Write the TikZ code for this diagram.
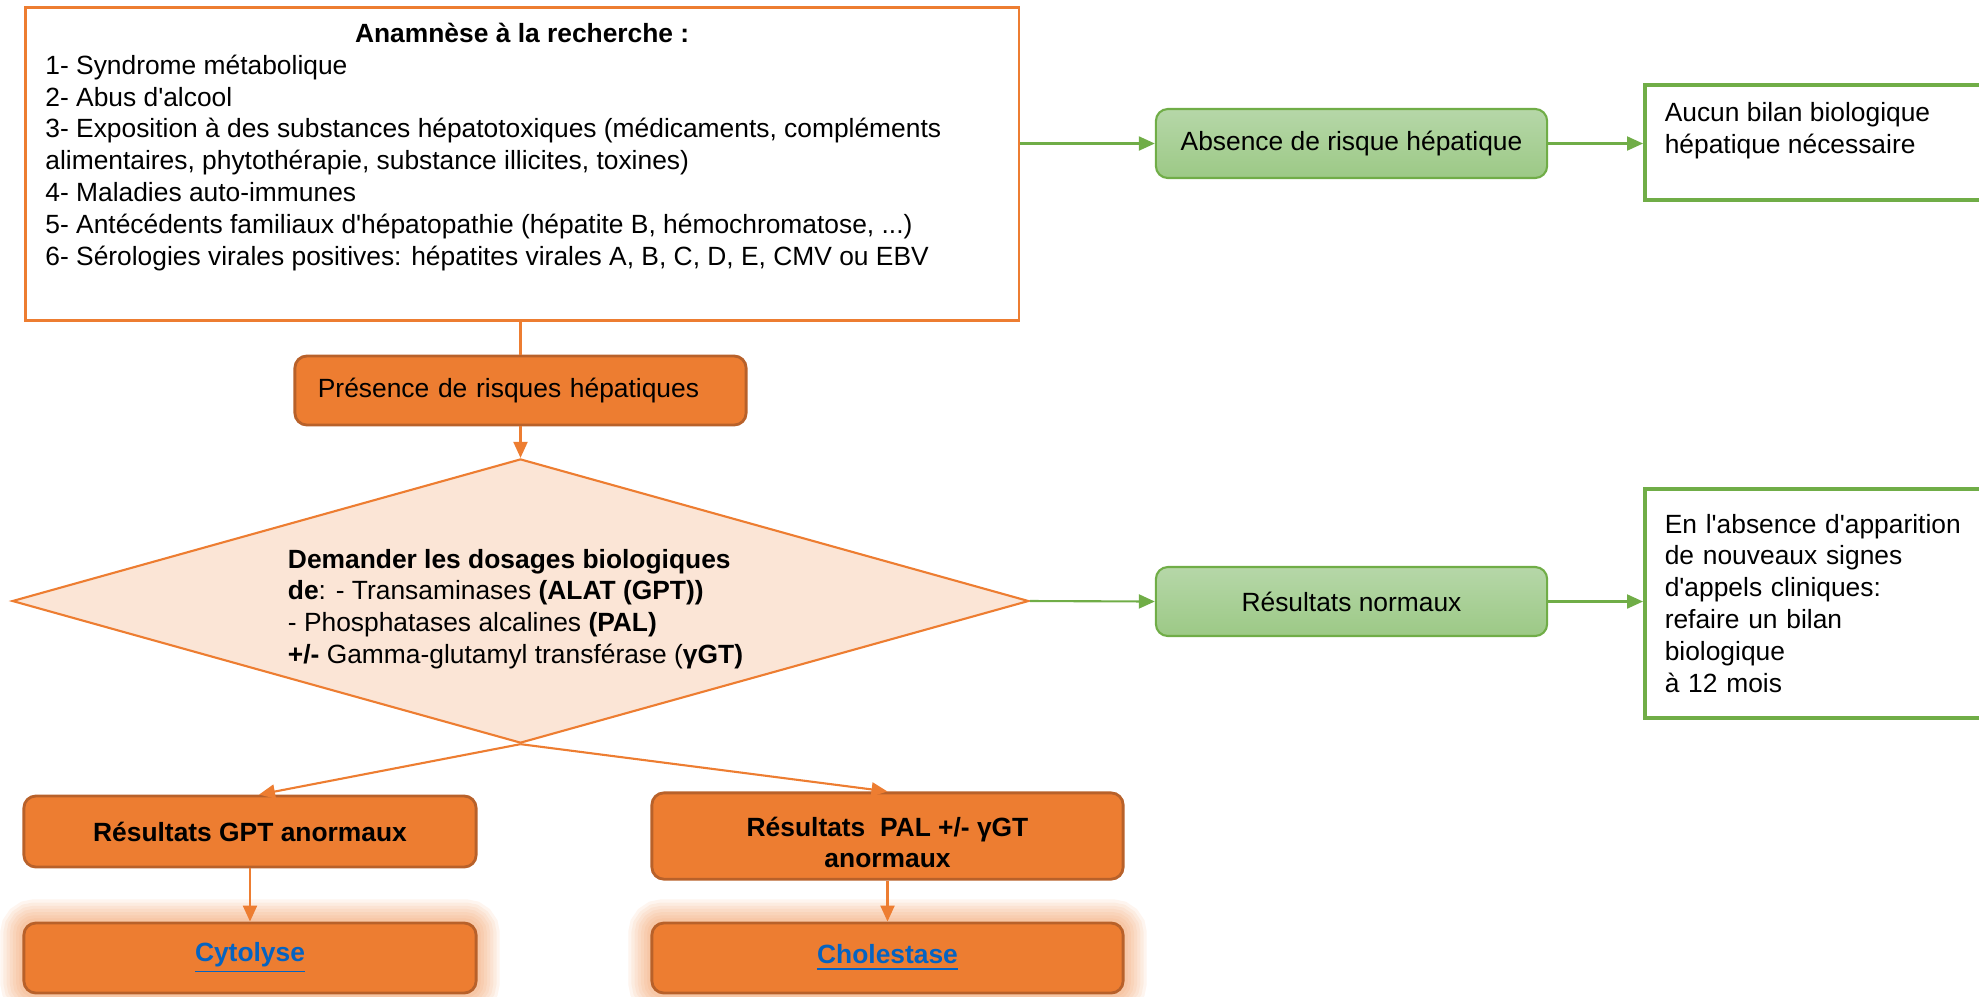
\documentclass[tikz,border=0pt]{standalone}
\usepackage{fontspec}
\setmainfont{Liberation Sans}[Ligatures=TeXOff]
\usetikzlibrary{shapes.geometric,arrows.meta,backgrounds}
\definecolor{orfill}{HTML}{ED7D31}
\definecolor{ordraw}{HTML}{B8612A}
\definecolor{peach}{HTML}{FBE5D6}
\definecolor{grdraw}{HTML}{70AD47}
\definecolor{grtop}{HTML}{B6D7A8}
\definecolor{grbot}{HTML}{9CC986}
\definecolor{linkblue}{HTML}{0563C1}
\newcommand{\lienbleu}[1]{\textcolor{linkblue}{\underline{#1}}}

\begin{document}
\begin{tikzpicture}[x=0.01cm,y=-0.01cm,
    font=\fontsize{7.5}{9.07}\selectfont,
    orbox/.style={fill=orfill,draw=ordraw,line width=0.8pt,rounded corners=0.12cm},
    grbox/.style={top color=grtop,bottom color=grbot,draw=grdraw,line width=0.6pt,
      rounded corners=0.12cm,minimum width=3.91cm,minimum height=0.69cm},
    wbox/.style={draw=grdraw,line width=1pt,fill=white,inner xsep=0.2cm,anchor=north west},
    orarrow/.style={draw=orfill,line width=0.6pt,-{Triangle[length=0.16cm,width=0.14cm]}},
    grarrow/.style={draw=grdraw,line width=0.6pt,-{Triangle[length=0.16cm,width=0.14cm]}}]
  \useasboundingbox (0,0) rectangle (1979,996);

  % Anamnese box
  \node (anam) [draw=orfill,line width=0.8pt,inner xsep=0.2cm,inner ysep=0.155cm,anchor=north west] at (24,6)
    {\parbox[c][2.82cm][t]{9.53cm}{\raggedright
      \makebox[\linewidth]{\textbf{Anamnèse à la recherche :}}\\
      1- Syndrome métabolique\\
      2- Abus d'alcool\\
      3- Exposition à des substances hépatotoxiques (médicaments, compléments\\
      alimentaires, phytothérapie, substance illicites, toxines)\\
      4- Maladies auto-immunes\\
      5- Antécédents familiaux d'hépatopathie (hépatite B, hémochromatose, ...)\\
      6- Sérologies virales positives: hépatites virales A, B, C, D, E, CMV ou EBV}};

  % Risk / no risk
  \node (pres) [orbox,text width=4.05cm,inner xsep=0.23cm,align=left,minimum height=0.69cm] at (520.5,390.5)
    {Présence de risques hépatiques};
  \node (absence) [grbox] at (1351.5,143.5) {Absence de risque hépatique};
  \node (aucun) [wbox,inner ysep=0.175cm] at (1643,83)
    {\parbox[c][0.80cm][t]{3.07cm}{\raggedright Aucun bilan biologique\\ hépatique nécessaire}};

  % Decision diamond
  \node (dosage) [diamond,aspect=3.58,fill=peach,draw=orfill,line width=0.6pt,inner sep=0pt,
    minimum width=10.16cm,minimum height=2.84cm,align=left] at (520.5,601)
    {\rule{0pt}{10pt}\textbf{Demander les dosages biologiques}\\
     \textbf{de}: - Transaminases \textbf{(ALAT (GPT))}\\
     - Phosphatases alcalines \textbf{(PAL)}\\
     \textbf{+/-} Gamma-glutamyl transférase (\textbf{γGT)}\hspace*{0.1cm}};

  % Normal results
  \node (normaux) [grbox] at (1351.5,601.5) {Résultats normaux};
  \node (suivi) [wbox,text width=3.07cm,align=left,minimum height=2.29cm] at (1643,487)
    {En l'absence d'apparition\\ de nouveaux signes\\ d'appels cliniques:\\ refaire un bilan\\ biologique\\ à 12 mois};

  % Abnormal results
  \node (gpt) [orbox,minimum width=4.52cm,minimum height=0.71cm,font=\fontsize{7.5}{9.07}\selectfont\bfseries] at (250,831.5)
    {Résultats GPT anormaux};
  \node (pal) [orbox,minimum width=4.71cm,minimum height=0.84cm,align=center,font=\fontsize{7.5}{8.8}\selectfont\bfseries] at (887.5,836)
    {\rule{0pt}{9pt}Résultats\ \ PAL +/- γGT\\ anormaux};
  \node (cyto) [orbox,minimum width=4.52cm,minimum height=0.70cm,font=\fontsize{7.5}{9.07}\selectfont\bfseries] at (250,958)
    {\lienbleu{Cytolyse}};
  \node (chol) [orbox,minimum width=4.71cm,minimum height=0.70cm,font=\fontsize{7.5}{9.07}\selectfont\bfseries] at (887.5,958)
    {\lienbleu{Cholestase}};

  % Glow round the last boxes
  \begin{scope}[on background layer]
    \foreach \n in {cyto,chol}
      \foreach \g in {1,...,7}
        \draw[orfill,opacity=0.08,line width=\g*1.8pt,rounded corners=0.12cm]
          (\n.south west) rectangle (\n.north east);
  \end{scope}

  % Connectors
  \draw[draw=orfill,line width=0.6pt] (anam.south -| pres.north) -- (pres.north);
  \draw[orarrow] (pres.south) -- (dosage.north);
  \draw[orarrow] (dosage.south) -- ([xshift=0.09cm]gpt.north);
  \draw[orarrow] (dosage.south) -- (pal.north);
  \draw[orarrow] (gpt.south) -- (cyto.north);
  \draw[orarrow] (pal.south) -- (chol.north);
  \draw[grarrow] (anam.east |- absence.west) -- (absence.west);
  \draw[grarrow] (absence.east) -- (absence.east -| aucun.west);
  \draw[grarrow] (dosage.east) -- (normaux.west);
  \draw[grarrow] (normaux.east) -- (normaux.east -| suivi.west);
\end{tikzpicture}
\end{document}
